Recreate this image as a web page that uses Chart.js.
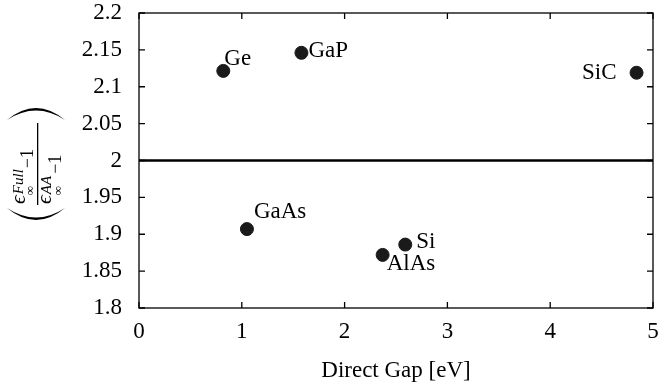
<!DOCTYPE html>
<html>
<head>
<meta charset="utf-8">
<script src="https://cdn.jsdelivr.net/npm/chart.js@4/dist/chart.umd.min.js"></script>
<style>
  html, body { margin: 0; padding: 0; background: #fff; }
  #wrap { width: 663px; height: 390px; }
</style>
</head>
<body>
<div id="wrap"><canvas id="gapChart" width="663" height="390"></canvas></div>
<script>
const materials = ['Ge', 'GaP', 'SiC', 'GaAs', 'Si', 'AlAs'];
const directGap = [0.82, 1.58, 4.84, 1.05, 2.59, 2.37];
const epsRatio = [2.1215, 2.146, 2.119, 1.907, 1.886, 1.872];
const xTicks = [0, 1, 2, 3, 4, 5];
const yTicks = [1.8, 1.85, 1.9, 1.95, 2, 2.05, 2.1, 2.15, 2.2];
const refLevel = 2;

// label offsets from each point, in pixels: [dx, dy (baseline), align]
const labelPlace = {
  Ge: [1, -6, 'left'],
  GaP: [7, 4, 'left'],
  SiC: [-20, 6, 'right'],
  GaAs: [7, -11, 'left'],
  Si: [11, 3, 'left'],
  AlAs: [4, 15, 'left']
};

const SERIF = '"Liberation Serif", "DejaVu Serif", serif';
const FONT_SIZE = 23;

function drawParen(ctx, side) {
  // thin crescent, drawn in the rotated title frame
  const s = side;
  ctx.beginPath();
  ctx.moveTo(s * 44, -29);
  ctx.quadraticCurveTo(s * 68, 0, s * 44, 29);
  ctx.quadraticCurveTo(s * 63, 0, s * 44, -29);
  ctx.closePath();
  ctx.fill();
}

const framePlugin = {
  id: 'frame',
  afterDatasetsDraw(chart) {
    const { ctx, chartArea: a, scales } = chart;
    ctx.save();
    ctx.strokeStyle = '#000';
    ctx.lineWidth = 1.3;
    ctx.strokeRect(a.left, a.top, a.right - a.left, a.bottom - a.top);
    ctx.beginPath();
    xTicks.forEach((v) => {
      const px = scales.x.getPixelForValue(v);
      ctx.moveTo(px, a.bottom); ctx.lineTo(px, a.bottom - 6);
      ctx.moveTo(px, a.top); ctx.lineTo(px, a.top + 6);
    });
    yTicks.forEach((v) => {
      const py = scales.y.getPixelForValue(v);
      ctx.moveTo(a.left, py); ctx.lineTo(a.left + 6, py);
      ctx.moveTo(a.right, py); ctx.lineTo(a.right - 6, py);
    });
    ctx.stroke();

    // point labels
    ctx.fillStyle = '#000';
    ctx.font = FONT_SIZE + 'px ' + SERIF;
    ctx.textBaseline = 'alphabetic';
    const meta = chart.getDatasetMeta(1);
    meta.data.forEach((pt, i) => {
      const [dx, dy, align] = labelPlace[materials[i]];
      ctx.textAlign = align;
      ctx.fillText(materials[i], pt.x + dx, pt.y + dy);
    });

    // y axis title: (eps_inf^Full - 1) / (eps_inf^AA - 1), in parentheses
    ctx.translate(36, 164);
    ctx.rotate(-Math.PI / 2);
    ctx.textAlign = 'left';
    const part = (txt, x, y, size, italic) => {
      ctx.font = (italic ? 'italic ' : '') + size + 'px ' + SERIF;
      ctx.fillText(txt, x, y);
      return x + ctx.measureText(txt).width;
    };
    // numerator
    let x = part('\u03f5', -40, -11, 22, true);
    part('\u221e', x, -2, 13, false);
    x = part('Full', x + 1, -13, 15, true);
    part('\u22121', x + 1, -3, 18, false);
    // denominator
    x = part('\u03f5', -40, 15, 22, true);
    part('\u221e', x, 26, 13, false);
    x = part('AA', x + 1, 15, 15, true);
    part('\u22121', x + 2, 25, 18, false);
    // fraction bar
    ctx.fillRect(-41, 1, 82, 1.3);
    drawParen(ctx, -1);
    drawParen(ctx, 1);
    ctx.restore();
  }
};

new Chart(document.getElementById('gapChart'), {
  type: 'scatter',
  data: {
    datasets: [
      {
        type: 'line',
        data: [{ x: 0, y: refLevel }, { x: 5, y: refLevel }],
        borderColor: '#000',
        borderWidth: 2.4,
        pointRadius: 0
      },
      {
        data: directGap.map((g, i) => ({ x: g, y: epsRatio[i] })),
        backgroundColor: '#1a1a1a',
        borderColor: '#1a1a1a',
        pointRadius: 6.5,
        pointHoverRadius: 6.5
      }
    ]
  },
  options: {
    responsive: false,
    animation: false,
    layout: { padding: { top: 13, right: 10, bottom: 5, left: 0 } },
    plugins: { legend: { display: false }, tooltip: { enabled: false } },
    scales: {
      x: {
        type: 'linear',
        min: 0,
        max: 5,
        afterBuildTicks: (s) => { s.ticks = xTicks.map((v) => ({ value: v })); },
        afterFit: (s) => { s.height = 77; s.paddingLeft = 0; s.paddingRight = 0; },
        grid: { display: false, drawTicks: false },
        border: { display: false },
        ticks: { color: '#000', padding: 10, font: { family: SERIF, size: FONT_SIZE }, maxRotation: 0 },
        title: {
          display: true,
          text: 'Direct Gap [eV]',
          color: '#000',
          font: { family: SERIF, size: FONT_SIZE },
          padding: { top: 4, bottom: 0 }
        }
      },
      y: {
        type: 'linear',
        min: 1.8,
        max: 2.2,
        afterBuildTicks: (s) => { s.ticks = yTicks.map((v) => ({ value: v })); },
        afterFit: (s) => { s.width = 139; s.paddingTop = 0; s.paddingBottom = 0; },
        grid: { display: false, drawTicks: false },
        border: { display: false },
        ticks: {
          color: '#000',
          padding: 17,
          font: { family: SERIF, size: FONT_SIZE },
          callback: (v) => String(+Number(v).toFixed(2))
        }
      }
    }
  },
  plugins: [framePlugin]
});
</script>
</body>
</html>
